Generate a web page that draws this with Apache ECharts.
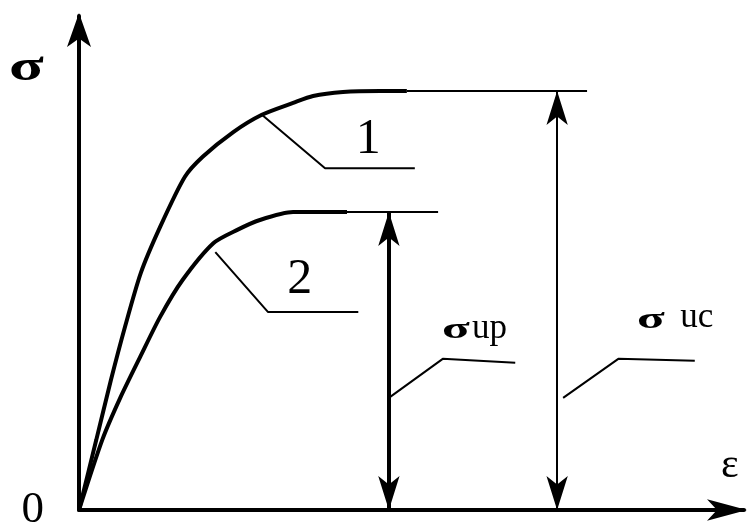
<!DOCTYPE html>
<html>
<head>
<meta charset="utf-8">
<script src="https://cdn.jsdelivr.net/npm/echarts@6/dist/echarts.min.js"></script>
<style>
  html, body { margin: 0; padding: 0; background: #fff; }
  #chart { width: 749px; height: 522px; }
</style>
</head>
<body>
<div id="chart"></div>
<script>
// Stress–strain diagram (σ–ε), two loading curves with their ultimate stresses.

// Curve 1
const strain1 = [0, 0.26, 0.48, 0.69, 0.93, 1.22, 1.59, 1.86, 2.32, 2.75, 3.22, 3.52, 3.97, 4.53, 4.93];
const stress1 = [0, 1.42, 2.63, 3.70, 4.80, 5.73, 6.74, 7.15, 7.65, 8.00, 8.24, 8.38, 8.46, 8.48, 8.48];
// Curve 2
const strain2 = [0, 0.35, 0.62, 0.92, 1.22, 1.56, 2.02, 2.38, 2.72, 3.22, 4.03];
const stress2 = [0, 1.42, 2.27, 3.10, 3.91, 4.66, 5.40, 5.67, 5.87, 6.03, 6.03];

// Horizontal extension lines of the plateaus (strain where they stop)
const plateauEnd = [7.64, 5.40];

// Dimension lines for the ultimate stresses (strain where they are drawn)
const dimStrain = [7.19, 4.66];          // σuc, σup
const dimNames = ['σuc', 'σup'];

// Leader lines: [strain, stress] vertices
const leader1 = [[2.75, 8.00], [3.70, 6.92], [5.05, 6.92]];
const leader2 = [[2.05, 5.22], [2.84, 4.01], [4.20, 4.01]];
const leaderUp = [[4.68, 2.29], [5.47, 3.06], [6.56, 2.98]];
const leaderUc = [[7.28, 2.27], [8.11, 3.06], [9.26, 3.02]];

// Label anchors
const curveLabels = [
  { name: '1', at: [4.35, 7.49] },
  { name: '2', at: [3.32, 4.66] }
];
const stressLabels = [
  { sub: 'up', at: [5.46, 3.64], subAt: [5.91, 3.66] },
  { sub: 'uc', at: [8.39, 3.85], subAt: [9.04, 3.89] }
];

const zip = (xs, ys) => xs.map((x, i) => [x, ys[i]]);
const sigmaUc = Math.max(...stress1);
const sigmaUp = Math.max(...stress2);

const SERIF = '"Liberation Serif", "Times New Roman", serif';
const thin = { color: '#000', width: 2 };
const thick = { color: '#000', width: 4 };

function poly(data, style, smooth) {
  return {
    type: 'line', data, showSymbol: false, symbol: 'none', silent: true,
    smooth: smooth || false,
    lineStyle: style, z: 3
  };
}

const chart = echarts.init(document.getElementById('chart'), null, { renderer: 'canvas' });

chart.setOption({
  animation: false,
  backgroundColor: '#fff',
  textStyle: { fontFamily: SERIF },
  grid: { left: 79, right: 5, top: 16, bottom: 12, outerBoundsMode: 'none', containLabel: false },
  xAxis: {
    type: 'value', min: 0, max: 10,
    splitLine: { show: false }, axisTick: { show: false }, axisLabel: { show: false },
    axisLine: {
      lineStyle: { color: '#000', width: 4 },
      symbol: ['none', 'arrow'], symbolSize: [16, 40], symbolOffset: [0, 3]
    }
  },
  yAxis: {
    type: 'value', min: 0, max: 10, interval: 10,
    splitLine: { show: false }, axisTick: { show: false },
    axisLabel: {
      formatter: v => (v === 0 ? '0' : ''),
      margin: 35, color: '#000', fontFamily: SERIF, fontSize: 45
    },
    axisLine: {
      lineStyle: { color: '#000', width: 4 },
      symbol: ['none', 'arrow'], symbolSize: [18, 34], symbolOffset: [0, 3]
    }
  },
  series: [
    poly(zip(strain1, stress1), thick, 0.25),
    poly([[strain1[strain1.length - 1], sigmaUc], [plateauEnd[0], sigmaUc]], thin),
    poly(zip(strain2, stress2), thick, 0.25),
    poly([[strain2[strain2.length - 1], sigmaUp], [plateauEnd[1], sigmaUp]], thin),
    poly(leader1, thin),
    poly(leader2, thin),
    poly(leaderUp, thin),
    poly(leaderUc, thin),
    {
      type: 'line', data: [], silent: true,
      markLine: {
        silent: true, animation: false,
        symbol: ['arrow', 'arrow'], symbolSize: [16, 34],
        label: { show: false },
        emphasis: { disabled: true },
        data: [
          [{ name: dimNames[0], coord: [dimStrain[0], 0], lineStyle: { color: '#000', width: 2, type: 'solid' } },
           { coord: [dimStrain[0], sigmaUc] }],
          [{ name: dimNames[1], coord: [dimStrain[1], 0], lineStyle: { color: '#000', width: 4, type: 'solid' } },
           { coord: [dimStrain[1], sigmaUp] }]
        ]
      }
    },
    {
      type: 'scatter', silent: true, symbolSize: 0,
      itemStyle: { color: '#000' },
      data: curveLabels.map(d => ({ value: d.at, name: d.name })),
      label: {
        show: true, position: 'inside', formatter: p => p.name,
        color: '#000', textBorderWidth: 0, opacity: 1,
        fontFamily: SERIF, fontSize: 50
      }
    }
  ]
});

// Greek symbols are drawn widened; placed through the grid's coordinate system.
const toPx = p => chart.convertToPixel({ gridIndex: 0 }, p);
const sigma = (pt, size, sx) => ({
  type: 'text', x: pt[0], y: pt[1], scaleX: sx, silent: true,
  style: { text: 'σ', fontFamily: SERIF, fontSize: size, fontWeight: 'bold', fill: '#000',
           textAlign: 'left', textVerticalAlign: 'middle' }
});
const word = (pt, text, size) => ({
  type: 'text', x: pt[0], y: pt[1], silent: true,
  style: { text, fontFamily: SERIF, fontSize: size, fill: '#000',
           textAlign: 'left', textVerticalAlign: 'middle' }
});

const graphics = [];
stressLabels.forEach(d => {
  graphics.push(sigma(toPx(d.at), 30, 1.7));
  graphics.push(word(toPx(d.subAt), d.sub, 35));
});
// axis names
graphics.push(sigma([9, 69], 44, 1.45));
graphics.push(word([721, 466], 'ε', 42));

chart.setOption({ graphic: graphics });
</script>
</body>
</html>
